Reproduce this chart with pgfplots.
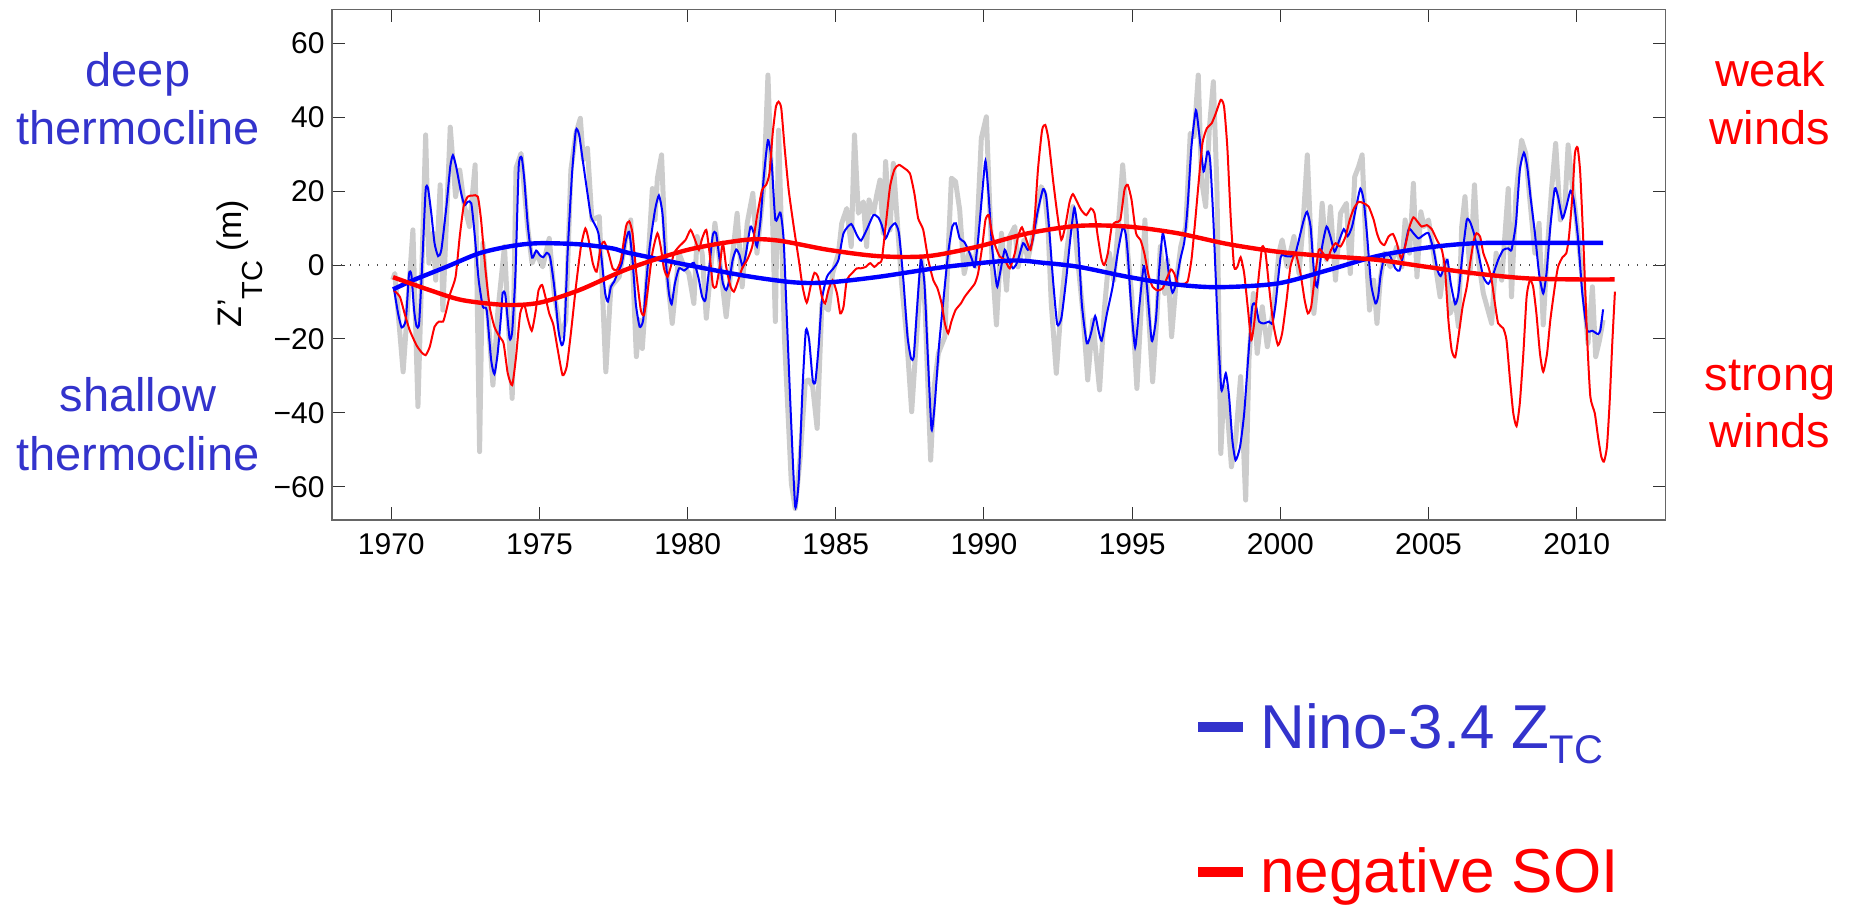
\documentclass[border=0pt]{standalone}
\usepackage{fontspec}
\setmainfont{Liberation Sans}
\usepackage{pgfplots}
\pgfplotsset{compat=1.18}
\definecolor{txtblue}{HTML}{3333CC}
\definecolor{grayline}{HTML}{CCCCCC}
\begin{document}
\begin{tikzpicture}[x=1pt,y=1pt]
\useasboundingbox (0,0) rectangle (928,452.5);
\begin{axis}[
  at={(166pt,192.5pt)}, anchor=south west,
  width=666.8pt, height=255.35pt, scale only axis,
  xmin=1968, xmax=2013, ymin=-69, ymax=69.2,
  xtick={1970,1975,1980,1985,1990,1995,2000,2005,2010},
  xticklabels={1970,1975,1980,1985,1990,1995,2000,2005,2010},
  ytick={-60,-40,-20,0,20,40,60},
  yticklabels={−60,−40,−20,0,20,40,60},
  xticklabel pos=lower, yticklabel pos=left,
  xtick pos=both, ytick pos=both,
  tick align=inside, major tick length=6.5pt,
  tick style={black!80, line width=0.5pt},
  axis line style={black!60, line width=0.6pt},
  ticklabel style={font=\fontsize{15}{18}\selectfont, inner sep=0pt},
  xticklabel style={yshift=-6.5pt},
  yticklabel style={xshift=-3.5pt},
]
\addplot[grayline, line width=2.5pt, line join=round] coordinates {
(1970.05,-4) (1970.12,-2.3) (1970.40,-28.9) (1970.73,9.5) (1970.90,-38.3) (1971.16,35.2) (1971.27,0.5) (1971.41,8.6) (1971.50,-4.1) (1971.65,21.7) (1971.74,-12.2) (1971.99,37.3) (1972.17,18.5) (1972.31,25.7) (1972.47,15.8) (1972.64,10.4) (1972.83,27.1) (1972.98,-50.5) (1973.09,5.9) (1973.26,-13.1) (1973.43,-32.5) (1973.60,-12.2) (1973.82,5.0) (1974.08,-36.1) (1974.21,26.2) (1974.38,30.2) (1974.60,10.4) (1974.75,0.5) (1974.89,3.2) (1975.11,-0.5) (1975.33,7.2) (1975.50,-7.7) (1975.73,-19.4) (1975.89,-14.9) (1976.06,25.7) (1976.23,35.6) (1976.38,39.7) (1976.48,28.4) (1976.62,31.6) (1976.77,12.2) (1977.02,13.1) (1977.24,-28.9) (1977.41,-5.9) (1977.69,-3.2) (1977.91,6.8)
(1978.08,12.2) (1978.27,-24.8) (1978.38,-14.9) (1978.47,-22.6) (1978.64,-2.3) (1978.81,20.7) (1978.90,12.2) (1978.98,23.5) (1979.12,29.8) (1979.26,1.4) (1979.48,-15.8) (1979.71,3.2) (1979.88,-0.5) (1980.04,-2.3) (1980.21,-10.4) (1980.32,7.7) (1980.49,3.2) (1980.63,-14.4) (1980.92,11.3) (1981.05,3.2) (1981.30,-14.0) (1981.45,-2.3) (1981.67,14.0) (1981.84,-5.9) (1982.01,11.3) (1982.20,19.4) (1982.34,3.2) (1982.57,21.2) (1982.71,51.4) (1982.83,23.0) (1982.96,-15.3) (1983.07,36.5) (1983.27,-20.3) (1983.50,-59.1) (1983.63,-65.9) (1983.80,-51.9) (1983.97,-31.6) (1984.08,-31.1) (1984.22,-32.9) (1984.37,-44.2) (1984.53,-10.4) (1984.75,-12.2) (1984.89,-2.3) (1985.09,3.2) (1985.20,11.3) (1985.37,15.3) (1985.52,5.0) (1985.63,35.2) (1985.76,14.0) (1985.93,17.1) (1986.04,5.0) (1986.12,17.6) (1986.27,14.0) (1986.38,18.9)
(1986.49,23.0) (1986.60,8.6) (1986.68,28.0) (1986.83,9.5) (1986.94,27.5) (1987.11,7.7) (1987.22,-5.0) (1987.39,-19.4) (1987.56,-39.7) (1987.69,-23.9) (1987.90,1.4) (1988.01,-11.3) (1988.20,-52.8) (1988.32,-32.9) (1988.46,-23.9) (1988.68,-19.4) (1988.79,3.2) (1988.90,23.5) (1989.04,22.6) (1989.18,14.9) (1989.33,-2.3) (1989.49,3.2) (1989.71,-0.5) (1989.91,34.3) (1990.08,40.1) (1990.19,16.7) (1990.27,1.4) (1990.42,-16.2) (1990.59,8.6) (1990.76,-6.8) (1990.87,7.7) (1991.04,10.4) (1991.15,-0.5) (1991.35,6.8) (1991.48,1.4) (1991.71,10.4) (1991.93,21.2) (1992.05,19.4) (1992.16,10.4) (1992.27,-10.4) (1992.44,-29.3) (1992.61,-10.4) (1992.81,5.0) (1993.00,15.8) (1993.14,3.2) (1993.34,-13.1) (1993.50,-31.1) (1993.67,-14.9) (1993.90,-33.8) (1994.06,-12.2) (1994.23,3.2) (1994.38,-4.1) (1994.53,10.4) (1994.68,27.1) (1994.79,15.8)
(1994.85,3.2) (1994.98,-7.7) (1995.16,-33.4) (1995.30,-12.2) (1995.43,12.2) (1995.52,-8.6) (1995.69,-31.6) (1995.84,-13.1) (1995.95,5.0) (1996.10,-7.7) (1996.19,1.4) (1996.33,-19.4) (1996.47,-5.9) (1996.64,5.0) (1996.81,10.4) (1996.96,35.6) (1997.09,34.7) (1997.23,51.4) (1997.34,23.0) (1997.48,15.8) (1997.60,36.5) (1997.74,49.6) (1997.86,21.2) (1997.99,-51.0) (1998.10,-32.9) (1998.21,-39.2) (1998.35,-54.6) (1998.49,-47.4) (1998.66,-30.2) (1998.83,-63.6) (1998.94,-25.7) (1999.09,-7.7) (1999.22,-23.9) (1999.39,-11.3) (1999.56,-22.1) (1999.78,-11.3) (1999.95,3.2) (2000.06,6.8) (2000.23,-0.5) (2000.46,7.7) (2000.63,-2.3) (2000.76,10.4) (2000.91,29.8) (2001.02,8.6) (2001.13,-13.1) (2001.26,-3.2) (2001.41,16.7) (2001.56,1.4) (2001.69,15.8) (2001.86,-4.1) (2002.03,14.0) (2002.23,16.7) (2002.36,-2.3) (2002.51,23.9) (2002.64,26.6) (2002.76,29.8) (2002.90,3.2) (2003.01,-12.2) (2003.15,-4.1) (2003.26,-15.8)
(2003.37,-4.1) (2003.51,3.2) (2003.71,-0.5) (2003.93,5.0) (2004.10,-0.5) (2004.21,12.2) (2004.36,3.2) (2004.49,22.1) (2004.61,-3.2) (2004.74,14.4) (2004.85,10.4) (2005.00,12.2) (2005.17,3.2) (2005.39,-8.6) (2005.56,1.4) (2005.73,-13.1) (2005.90,-9.5) (2006.01,-16.7) (2006.12,10.4) (2006.23,18.5) (2006.40,-2.3) (2006.55,21.7) (2006.68,1.4) (2006.85,-7.7) (2007.13,-15.8) (2007.28,3.2) (2007.47,-4.1) (2007.69,20.7) (2007.80,-8.6) (2007.95,18.9) (2008.14,33.8) (2008.28,30.2) (2008.42,17.6) (2008.59,3.2) (2008.73,11.3) (2008.87,-16.2) (2009.00,3.2) (2009.15,20.3) (2009.29,32.9) (2009.45,12.2) (2009.60,15.8) (2009.71,32.5) (2009.88,19.4) (2009.99,12.2) (2010.16,-1.4) (2010.27,-10.4) (2010.38,-21.2) (2010.53,-5.9) (2010.64,-24.8) (2010.77,-20.3) (2010.89,-14.9)
};
\addplot[black!70, line width=0.6pt, dash pattern=on 0.6pt off 3.9pt] coordinates {(1968,0) (2013,0)};
\addplot[blue, line width=1pt, smooth, tension=0.35] coordinates {
(1970.08,-5.9) (1970.23,-13.1) (1970.35,-16.9) (1970.49,-14.9) (1970.60,-2.4) (1970.68,-2.7) (1970.77,-12.2) (1970.85,-16.5) (1970.94,-15.8) (1971.05,1.4) (1971.16,20.3) (1971.24,20.7) (1971.35,14.0) (1971.46,5.9) (1971.58,2.4) (1971.69,4.1) (1971.86,15.8) (1971.99,26.6) (1972.08,29.7) (1972.19,26.6) (1972.36,19.4) (1972.47,16.2) (1972.58,17.1) (1972.70,16.7) (1972.81,8.6) (1972.95,-4.1) (1973.09,-11.3) (1973.22,-12.2) (1973.37,-25.7) (1973.48,-29.5) (1973.59,-23.9) (1973.71,-13.1) (1973.76,-7.5) (1973.85,-8.1) (1973.99,-19.8) (1974.08,-18.0) (1974.19,-2.3) (1974.30,26.6) (1974.40,29.1) (1974.49,23.0) (1974.61,10.4) (1974.75,2.0) (1974.89,3.9) (1975.02,2.6) (1975.13,2.1) (1975.25,3.3) (1975.36,2.1) (1975.50,-5.9) (1975.64,-17.6) (1975.75,-21.7) (1975.84,-18.9) (1975.95,3.2) (1976.10,24.8) (1976.23,36.5) (1976.34,35.2) (1976.46,28.4) (1976.62,19.4) (1976.74,13.1) (1976.88,10.8) (1976.99,8.6) (1977.10,1.4) (1977.22,-7.7) (1977.31,-9.9) (1977.41,-5.9) (1977.52,-4.5) (1977.63,-2.3) (1977.78,0.5) (1977.92,6.8) (1978.03,9.0)
(1978.14,1.4) (1978.25,-10.4) (1978.38,-16.7) (1978.50,-14.9) (1978.61,-4.1) (1978.72,5.0) (1978.90,14.9) (1979.03,18.8) (1979.15,14.0) (1979.26,1.4) (1979.37,-7.7) (1979.46,-10.6) (1979.57,-5.0) (1979.71,-0.9) (1979.88,-1.5) (1980.02,-0.6) (1980.21,0.6) (1980.36,-3.2) (1980.49,-8.6) (1980.60,-9.5) (1980.72,-1.4) (1980.85,8.1) (1980.96,8.6) (1981.08,1.4) (1981.19,-5.0) (1981.30,-6.8) (1981.41,-4.1) (1981.52,1.4) (1981.64,4.2) (1981.75,2.7) (1981.86,-0.5) (1981.97,3.2) (1982.12,10.4) (1982.23,8.6) (1982.34,5.0) (1982.46,12.2) (1982.57,23.9) (1982.71,33.8) (1982.83,28.4) (1982.96,12.2) (1983.13,14.2) (1983.24,6.8) (1983.35,-14.9) (1983.49,-41.9) (1983.63,-65.4) (1983.75,-58.2) (1983.88,-32.9) (1983.99,-17.6) (1984.10,-20.3) (1984.22,-31.1) (1984.31,-31.6) (1984.42,-22.1) (1984.53,-9.5) (1984.70,-3.2) (1984.92,-0.9) (1985.09,1.4) (1985.26,8.6) (1985.52,11.1) (1985.71,8.1) (1985.85,6.6) (1986.04,9.5) (1986.27,13.5) (1986.44,12.8)
(1986.55,10.8) (1986.68,7.2) (1986.83,9.9) (1987.00,11.3) (1987.13,8.6) (1987.28,-4.1) (1987.42,-19.4) (1987.54,-25.3) (1987.63,-24.8) (1987.73,-13.1) (1987.87,1.4) (1987.99,-5.0) (1988.10,-23.9) (1988.23,-44.5) (1988.34,-37.4) (1988.48,-22.1) (1988.62,-10.4) (1988.79,3.2) (1988.93,10.4) (1989.05,11.3) (1989.18,7.2) (1989.33,6.3) (1989.47,4.1) (1989.60,1.4) (1989.69,-0.5) (1989.80,6.8) (1989.94,19.4) (1990.05,28.2) (1990.16,18.5) (1990.27,5.0) (1990.39,-3.2) (1990.45,-5.9) (1990.56,-1.4) (1990.70,4.1) (1990.83,1.4) (1990.98,-0.9) (1991.13,0.9) (1991.32,5.9) (1991.48,4.1) (1991.62,5.9) (1991.80,14.0) (1991.99,20.5) (1992.10,18.5) (1992.21,8.6) (1992.33,-4.1) (1992.47,-16.0) (1992.61,-14.4) (1992.77,-4.1) (1992.92,7.7) (1993.05,15.5) (1993.17,8.6) (1993.30,-10.4) (1993.47,-21.2) (1993.61,-18.5) (1993.75,-13.8) (1993.86,-17.6) (1993.97,-20.5) (1994.15,-13.1) (1994.34,-5.9) (1994.51,3.2) (1994.68,10.2) (1994.78,8.5)
(1994.85,3.2) (1994.96,-10.4) (1995.10,-22.3) (1995.24,-11.3) (1995.39,-0.3) (1995.50,-5.9) (1995.66,-20.5) (1995.80,-14.9) (1995.91,-1.4) (1996.03,8.6) (1996.14,4.1) (1996.25,-3.2) (1996.36,-7.5) (1996.48,-5.0) (1996.62,1.4) (1996.76,6.3) (1996.87,15.8) (1997.00,32.0) (1997.15,41.9) (1997.26,35.6) (1997.41,25.3) (1997.54,30.7) (1997.63,28.4) (1997.74,12.2) (1997.88,-14.9) (1998.01,-33.8) (1998.16,-29.3) (1998.27,-35.6) (1998.38,-47.4) (1998.49,-52.8) (1998.64,-49.2) (1998.78,-40.1) (1998.91,-25.7) (1999.05,-11.3) (1999.17,-10.8) (1999.28,-15.3) (1999.45,-15.8) (1999.62,-15.3) (1999.73,-15.8) (1999.84,-10.4) (2000.01,2.1) (2000.18,2.4) (2000.34,2.3) (2000.51,3.2) (2000.68,8.6) (2000.79,12.2) (2000.90,14.4) (2001.02,10.4) (2001.13,-1.4) (2001.24,-5.9) (2001.41,5.0) (2001.56,10.4) (2001.69,7.7) (2001.83,3.6) (2001.97,6.3) (2002.14,9.7) (2002.27,7.8) (2002.42,10.4) (2002.56,15.8) (2002.70,20.7) (2002.81,17.6) (2002.92,8.6) (2003.06,-5.0) (2003.21,-10.4)
(2003.30,-8.5) (2003.39,-2.3) (2003.54,3.2) (2003.71,2.3) (2003.88,-0.9) (2004.02,-1.5) (2004.16,3.2) (2004.33,9.7) (2004.49,8.6) (2004.66,7.2) (2004.83,8.1) (2005.00,8.6) (2005.17,4.1) (2005.30,-1.4) (2005.41,-3.0) (2005.53,-0.5) (2005.64,1.4) (2005.75,-5.0) (2005.90,-10.6) (2006.01,-7.7) (2006.15,3.2) (2006.29,12.2) (2006.40,11.7) (2006.53,8.6) (2006.68,3.2) (2006.85,-3.2) (2007.02,-5.1) (2007.19,-2.3) (2007.35,1.4) (2007.52,4.1) (2007.69,4.5) (2007.80,4.1) (2007.95,11.3) (2008.08,25.7) (2008.22,30.4) (2008.33,26.6) (2008.44,18.5) (2008.59,8.6) (2008.73,-2.3) (2008.87,-7.7) (2008.98,-2.3) (2009.11,10.4) (2009.26,20.7) (2009.37,18.5) (2009.52,12.6) (2009.65,15.8) (2009.79,20.1) (2009.90,17.6) (2010.05,6.8) (2010.19,-7.7) (2010.35,-17.6) (2010.53,-17.8) (2010.72,-18.7) (2010.80,-17.6) (2010.89,-12.0)
};
\addplot[red, line width=1pt, smooth, tension=0.35] coordinates {
(1970.08,-6.8) (1970.29,-8.6) (1970.45,-13.1) (1970.62,-17.6) (1970.85,-21.7) (1971.02,-23.6) (1971.16,-24.4) (1971.30,-22.1) (1971.46,-16.7) (1971.61,-15.3) (1971.75,-15.3) (1971.86,-12.2) (1971.99,-7.7) (1972.17,-3.2) (1972.31,7.7) (1972.44,15.8) (1972.58,18.5) (1972.75,18.8) (1972.92,18.5) (1973.03,12.2) (1973.18,-1.4) (1973.32,-11.3) (1973.48,-16.7) (1973.65,-19.4) (1973.79,-21.2) (1973.93,-29.3) (1974.08,-32.5) (1974.21,-24.8) (1974.35,-13.1) (1974.49,-10.8) (1974.60,-14.4) (1974.74,-17.8) (1974.86,-13.1) (1974.97,-6.8) (1975.09,-5.4) (1975.20,-8.6) (1975.33,-13.1) (1975.47,-16.2) (1975.61,-22.6) (1975.78,-29.8) (1975.92,-27.5) (1976.06,-18.5) (1976.23,-5.9) (1976.40,5.0) (1976.55,9.9) (1976.66,6.8) (1976.80,0.5) (1976.93,-1.8) (1977.07,5.0) (1977.19,6.3) (1977.33,3.2) (1977.47,-0.9) (1977.60,-1.4) (1977.75,1.4) (1977.92,10.4) (1978.03,11.8)
(1978.14,8.6) (1978.27,-2.3) (1978.42,-12.2) (1978.53,-13.5) (1978.64,-7.7) (1978.81,3.2) (1978.98,8.6) (1979.09,5.0) (1979.20,-0.9) (1979.32,-3.2) (1979.43,-0.5) (1979.54,3.2) (1979.71,5.0) (1979.93,6.8) (1980.10,9.5) (1980.25,6.8) (1980.38,4.1) (1980.49,7.2) (1980.63,9.5) (1980.74,3.2) (1980.85,-5.4) (1980.96,-5.9) (1981.08,-0.5) (1981.19,5.9) (1981.30,-0.5) (1981.45,-5.9) (1981.56,-7.2) (1981.67,-5.0) (1981.84,-0.9) (1982.01,1.4) (1982.18,5.0) (1982.34,13.1) (1982.51,20.3) (1982.65,21.7) (1982.76,24.8) (1982.87,35.6) (1982.98,42.9) (1983.07,44.2) (1983.16,42.4) (1983.27,32.0) (1983.41,20.3) (1983.58,10.4) (1983.75,1.4) (1983.88,-5.9) (1984.02,-10.2) (1984.17,-5.0) (1984.28,-2.1) (1984.40,-3.2) (1984.53,-8.6) (1984.64,-10.4) (1984.75,-6.8) (1984.89,-4.1) (1985.04,-7.7) (1985.15,-13.1) (1985.26,-11.3) (1985.37,-4.1) (1985.54,-2.3) (1985.71,-0.9) (1985.85,-0.9) (1986.01,-0.5) (1986.16,0.5) (1986.30,-0.5) (1986.44,0.5)
(1986.55,1.4) (1986.68,10.4) (1986.83,21.2) (1986.98,25.9) (1987.13,27.1) (1987.31,26.2) (1987.50,24.8) (1987.65,19.4) (1987.78,12.6) (1987.95,9.5) (1988.12,1.4) (1988.29,-4.1) (1988.43,-6.3) (1988.57,-10.4) (1988.68,-15.8) (1988.79,-18.5) (1988.90,-15.3) (1989.04,-12.2) (1989.22,-10.4) (1989.35,-8.6) (1989.52,-6.8) (1989.69,-5.0) (1989.80,-2.3) (1989.94,5.0) (1990.05,12.2) (1990.16,13.5) (1990.27,8.6) (1990.39,5.0) (1990.53,2.3) (1990.70,1.4) (1990.87,-0.9) (1991.04,3.2) (1991.15,7.7) (1991.28,10.2) (1991.43,6.8) (1991.57,4.1) (1991.69,10.4) (1991.82,25.7) (1991.96,36.5) (1992.07,37.9) (1992.18,33.8) (1992.33,23.0) (1992.47,14.0) (1992.61,6.8) (1992.74,10.4) (1992.89,17.1) (1993.00,19.2) (1993.14,17.1) (1993.28,14.9) (1993.45,13.5) (1993.61,15.3) (1993.73,14.0) (1993.84,7.7) (1993.97,1.4) (1994.06,0) (1994.18,3.2) (1994.31,10.4) (1994.46,11.7) (1994.60,12.2) (1994.74,20.3) (1994.85,21.7)
(1994.98,17.6) (1995.13,8.6) (1995.28,6.8) (1995.41,3.2) (1995.55,-2.7) (1995.69,-5.9) (1995.86,-6.9) (1996.03,-6.3) (1996.17,-3.6) (1996.31,-1.2) (1996.42,-2.3) (1996.53,-5.0) (1996.70,-5.1) (1996.87,-4.5) (1997.00,1.4) (1997.11,10.4) (1997.23,21.2) (1997.37,32.9) (1997.52,37.0) (1997.68,38.3) (1997.82,41.0) (1997.99,44.7) (1998.10,42.9) (1998.21,32.0) (1998.33,12.2) (1998.44,-0.5) (1998.55,-0.5) (1998.66,2.1) (1998.78,-2.3) (1998.91,-12.2) (1999.02,-20.3) (1999.13,-14.9) (1999.28,-2.3) (1999.39,5.0) (1999.50,3.2) (1999.62,-5.9) (1999.76,-15.8) (1999.92,-21.7) (2000.06,-18.5) (2000.21,-9.5) (2000.34,-0.5) (2000.51,3.2) (2000.68,-2.3) (2000.82,-9.5) (2000.93,-13.1) (2001.04,-11.3) (2001.15,-4.1) (2001.30,4.1) (2001.44,3.2) (2001.58,1.4) (2001.71,4.1) (2001.86,5.9) (2002.03,5.0) (2002.20,7.7) (2002.34,12.2) (2002.48,15.3) (2002.64,17.1) (2002.81,16.7) (2002.98,15.8) (2003.15,12.2) (2003.26,8.6)
(2003.37,6.3) (2003.51,5.4) (2003.65,7.7) (2003.80,8.4) (2003.93,5.9) (2004.07,1.8) (2004.21,5.0) (2004.36,10.4) (2004.49,12.9) (2004.63,11.7) (2004.77,10.4) (2004.94,10.8) (2005.11,9.7) (2005.28,6.8) (2005.45,4.1) (2005.56,-1.4) (2005.67,-14.9) (2005.78,-23.0) (2005.90,-25.0) (2006.01,-19.4) (2006.15,-11.3) (2006.29,-5.9) (2006.42,1.4) (2006.53,6.8) (2006.62,8.6) (2006.74,7.7) (2006.85,3.2) (2007.02,-0.5) (2007.13,-4.1) (2007.24,-10.4) (2007.35,-15.8) (2007.52,-17.1) (2007.63,-20.3) (2007.75,-31.1) (2007.86,-40.1) (2007.97,-43.6) (2008.08,-37.4) (2008.20,-23.9) (2008.31,-8.6) (2008.42,-4.1) (2008.53,-5.9) (2008.64,-13.1) (2008.76,-23.9) (2008.87,-28.9) (2009.00,-23.9) (2009.11,-14.9) (2009.26,-5.9) (2009.37,-0.5) (2009.52,2.1) (2009.65,3.2) (2009.74,7.7) (2009.86,19.4) (2009.94,30.2) (2010.03,31.8) (2010.12,24.8) (2010.24,3.2) (2010.35,-19.4) (2010.46,-35.6) (2010.61,-40.1) (2010.72,-46.5) (2010.83,-51.9) (2010.92,-53.2) (2011.02,-49.2) (2011.11,-37.4) (2011.20,-21.2) (2011.29,-7.2)
};
\addplot[blue, line width=2.2pt, smooth] coordinates {
(1970.06,-6.6) (1970.74,-4.1) (1971.86,-0.5) (1972.98,3.2) (1974.1,5.2) (1975.0,5.9) (1976.34,5.6) (1977.46,4.5) (1978.0,3.3) (1980.0,0) (1982.0,-3.0) (1983.6,-4.7) (1984.75,-4.7) (1986.44,-3.2) (1988.7,-0.5) (1990.9,1.2) (1992.0,0.6) (1993.2,-0.5) (1994.85,-3.2) (1996.4,-5.2) (1997.88,-6.0) (1999.9,-5.0) (2001.6,-1.4) (2003.26,2.4) (2004.94,4.7) (2006.6,5.9) (2008.9,6.0) (2010.89,6.0)
};
\addplot[red, line width=2.2pt, smooth] coordinates {
(1970.06,-3.3) (1971.3,-6.8) (1972.4,-9.5) (1973.87,-10.8) (1975.0,-10.2) (1976.34,-6.8) (1978.0,-1.0) (1980.0,4.1) (1981.95,6.8) (1983.07,6.6) (1984.75,4.1) (1986.44,2.4) (1988.1,2.4) (1989.8,5.0) (1991.5,8.6) (1993.2,10.6) (1994.85,10.4) (1996.53,8.6) (1998.21,5.7) (1999.9,3.6) (2001.58,2.4) (2003.26,1.4) (2004.94,-0.5) (2006.6,-2.3) (2008.3,-3.6) (2010.0,-3.9) (2011.28,-3.9)
};
\end{axis}
% y label
\node[rotate=90, anchor=base west, inner sep=0pt, font=\fontsize{17}{20}\selectfont] at (120.5,288.5) {Z’\raisebox{-10.5pt}{\fontsize{14.5}{17}\selectfont TC} (m)};
% side annotations
\begin{scope}[every node/.style={anchor=base, inner sep=0pt, font=\fontsize{23.5}{28}\selectfont}]
\node[txtblue] at (69,409) {deep};
\node[txtblue] at (69,380) {thermocline};
\node[txtblue] at (69,246.5) {shallow};
\node[txtblue] at (69,217) {thermocline};
\node[red] at (885,409) {weak};
\node[red] at (885,380) {winds};
\node[red] at (885,257) {strong};
\node[red] at (885,228.5) {winds};
\end{scope}
% legend
\draw[txtblue, line width=5pt] (599,89) -- (621.5,89);
\node[txtblue, anchor=base west, inner sep=0pt, font=\fontsize{31}{37}\selectfont] at (630,78.5) {Nino-3.4 Z\raisebox{-7.5pt}{\fontsize{20}{24}\selectfont TC}};
\draw[red, line width=5pt] (599,16.5) -- (621.5,16.5);
\node[red, anchor=base west, inner sep=0pt, font=\fontsize{31}{37}\selectfont] at (630,6.5) {negative SOI};
\end{tikzpicture}
\end{document}
